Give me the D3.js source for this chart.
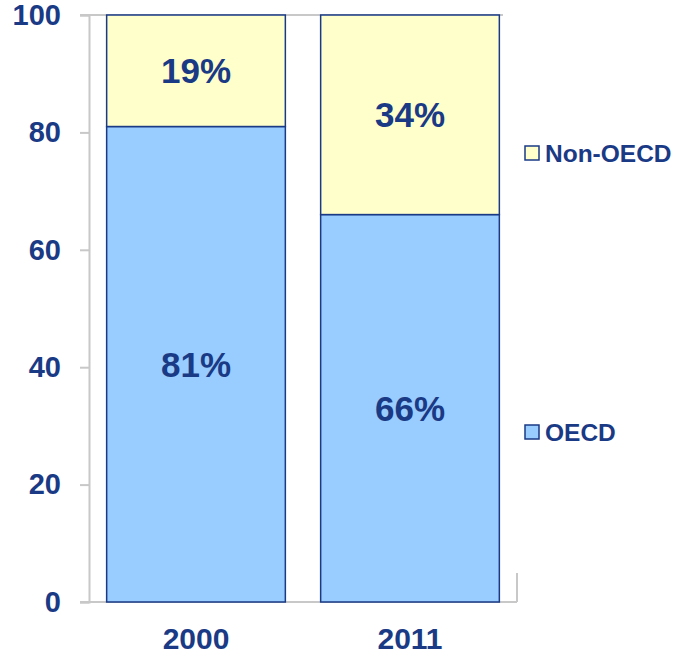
<!DOCTYPE html>
<html>
<head>
<meta charset="utf-8">
<script src="https://cdn.jsdelivr.net/npm/d3@7/dist/d3.min.js"></script>
<style>
  body { margin: 0; background: #fff; }
  svg text { font-family: Arial, "Liberation Sans", sans-serif; font-weight: bold; fill: #1a3a85; }
</style>
</head>
<body>
<svg id="chart" width="673" height="656"></svg>
<script>
const years = ["2000", "2011"];
const oecd = [81, 66];
const nonOecd = [19, 34];
const yTicks = [0, 20, 40, 60, 80, 100];
const seriesNames = ["OECD", "Non-OECD"];

const svg = d3.select("#chart");
const colors = { "OECD": "#99ccff", "Non-OECD": "#ffffcc" };
const ink = "#1a3a85";
const grey = "#c8c8c8";

const y = d3.scaleLinear().domain([0, 100]).range([602, 15]);
const x = d3.scaleBand().domain(years).range([89, 517]).paddingInner(0.165).paddingOuter(0.0825);

// top border and axes lines
svg.append("line").attr("x1", 80).attr("x2", 503).attr("y1", y(100)).attr("y2", y(100))
  .attr("stroke", grey).attr("stroke-width", 2);
svg.append("line").attr("x1", 80).attr("x2", 517).attr("y1", y(0)).attr("y2", y(0))
  .attr("stroke", grey).attr("stroke-width", 2);
svg.append("line").attr("x1", 517).attr("x2", 517).attr("y1", 573).attr("y2", y(0))
  .attr("stroke", grey).attr("stroke-width", 2);

const yAxis = svg.append("g").attr("transform", "translate(89,0)")
  .call(d3.axisLeft(y).tickValues(yTicks).tickSize(9).tickPadding(19));
yAxis.select(".domain").attr("stroke", grey).attr("stroke-width", 2);
yAxis.selectAll(".tick line").attr("stroke", grey).attr("stroke-width", 2);
yAxis.selectAll(".tick text").attr("font-size", 29).attr("fill", ink)
  .attr("font-family", "Arial, 'Liberation Sans', sans-serif");

const rows = years.map((yr, i) => ({ year: yr, OECD: oecd[i], "Non-OECD": nonOecd[i] }));
const stacked = d3.stack().keys(seriesNames)(rows);

stacked.forEach(layer => {
  svg.append("g").selectAll("rect").data(layer).join("rect")
    .attr("x", d => x(d.data.year))
    .attr("width", x.bandwidth())
    .attr("y", d => y(d[1]))
    .attr("height", d => y(d[0]) - y(d[1]))
    .attr("fill", colors[layer.key])
    .attr("stroke", ink).attr("stroke-width", 1.5);

  svg.append("g").selectAll("text").data(layer).join("text")
    .attr("x", d => x(d.data.year) + x.bandwidth() / 2)
    .attr("y", d => y((d[0] + d[1]) / 2) + 12.5)
    .attr("text-anchor", "middle")
    .attr("font-size", 35)
    .text(d => (d[1] - d[0]) + "%");
});

// x labels
svg.append("g").selectAll("text").data(years).join("text")
  .attr("x", d => x(d) + x.bandwidth() / 2)
  .attr("y", 649)
  .attr("text-anchor", "middle")
  .attr("font-size", 30)
  .text(d => d);

// legend
const legendY = { "Non-OECD": 153, "OECD": 432 };
const legend = svg.append("g").selectAll("g").data(seriesNames).join("g")
  .attr("transform", d => `translate(525,${legendY[d]})`);
legend.append("rect").attr("x", 0).attr("y", -7).attr("width", 14).attr("height", 14)
  .attr("fill", d => colors[d]).attr("stroke", ink).attr("stroke-width", 1.5);
legend.append("text").attr("x", 20).attr("y", 8.5).attr("font-size", 24.5).text(d => d);
</script>
</body>
</html>
